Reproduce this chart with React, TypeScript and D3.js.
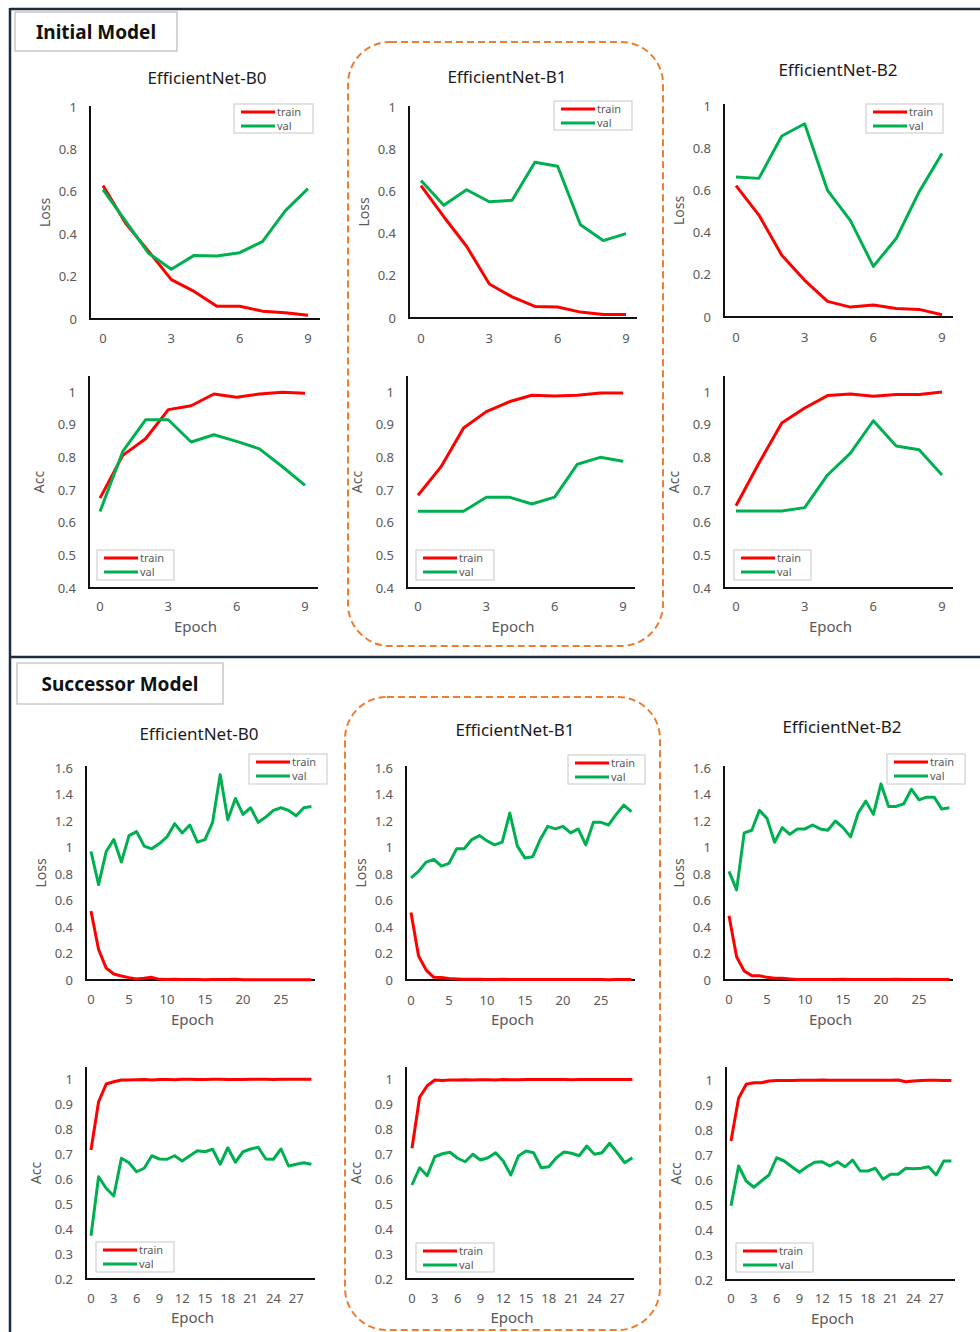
import React from "react";
import * as d3 from "d3";

// ---- data ----
const xTicksInit = [0, 3, 6, 9];
const xTicksSuccLoss = [0, 5, 10, 15, 20, 25];
const xTicksSuccAcc = [0, 3, 6, 9, 12, 15, 18, 21, 24, 27];
const lossTicksInit = [0, 0.2, 0.4, 0.6, 0.8, 1];
const accTicksInit = [0.4, 0.5, 0.6, 0.7, 0.8, 0.9, 1];
const lossTicksSucc = [0, 0.2, 0.4, 0.6, 0.8, 1, 1.2, 1.4, 1.6];
const accTicksSucc = [0.2, 0.3, 0.4, 0.5, 0.6, 0.7, 0.8, 0.9, 1];

// initial model, 10 epochs
const initB0LossTrain = [0.63, 0.45, 0.32, 0.186, 0.13, 0.06, 0.06, 0.037, 0.03, 0.018];
const initB0LossVal = [0.61, 0.46, 0.31, 0.235, 0.3, 0.297, 0.313, 0.365, 0.51, 0.615];
const initB0AccTrain = [0.675, 0.806, 0.857, 0.946, 0.958, 0.994, 0.984, 0.994, 0.999, 0.996];
const initB0AccVal = [0.634, 0.818, 0.915, 0.915, 0.847, 0.869, 0.849, 0.826, 0.772, 0.714];

const initB1LossTrain = [0.627, 0.48, 0.34, 0.161, 0.1, 0.055, 0.052, 0.028, 0.017, 0.017];
const initB1LossVal = [0.652, 0.534, 0.608, 0.551, 0.558, 0.738, 0.719, 0.442, 0.367, 0.4];
const initB1AccTrain = [0.684, 0.77, 0.89, 0.94, 0.97, 0.99, 0.988, 0.99, 0.997, 0.997];
const initB1AccVal = [0.635, 0.635, 0.635, 0.678, 0.678, 0.657, 0.678, 0.779, 0.8, 0.788];

const initB2LossTrain = [0.623, 0.483, 0.293, 0.174, 0.074, 0.047, 0.057, 0.04, 0.036, 0.011];
const initB2LossVal = [0.663, 0.657, 0.858, 0.916, 0.6, 0.457, 0.24, 0.372, 0.593, 0.775];
const initB2AccTrain = [0.652, 0.782, 0.905, 0.951, 0.989, 0.994, 0.987, 0.992, 0.992, 1.0];
const initB2AccVal = [0.636, 0.636, 0.636, 0.646, 0.746, 0.813, 0.912, 0.835, 0.823, 0.746];

// successor model, 30 epochs
const succB0LossTrain = [0.52, 0.23, 0.09, 0.045, 0.03, 0.018, 0.008, 0.013, 0.02, 0.005, 0.004, 0.005, 0.004, 0.004, 0.003, 0.002, 0.003, 0.004, 0.003, 0.005, 0.002, 0.002, 0.002, 0.002, 0.002, 0.002, 0.002, 0.002, 0.002, 0.002];
const succB0LossVal = [0.97, 0.72, 0.97, 1.06, 0.89, 1.09, 1.12, 1.01, 0.99, 1.03, 1.08, 1.18, 1.11, 1.17, 1.04, 1.06, 1.19, 1.55, 1.21, 1.37, 1.25, 1.3, 1.19, 1.23, 1.28, 1.3, 1.28, 1.24, 1.3, 1.31];
const succB0AccTrain = [0.716, 0.909, 0.98, 0.989, 0.996, 0.996, 0.997, 0.998, 0.996, 0.998, 0.998, 0.997, 0.999, 0.999, 0.998, 0.998, 0.999, 0.999, 0.998, 0.998, 0.998, 0.999, 0.999, 0.999, 0.998, 0.999, 0.999, 0.999, 0.999, 0.999];
const succB0AccVal = [0.373, 0.609, 0.563, 0.532, 0.683, 0.665, 0.629, 0.643, 0.693, 0.68, 0.679, 0.693, 0.672, 0.693, 0.713, 0.709, 0.719, 0.659, 0.725, 0.667, 0.709, 0.72, 0.727, 0.68, 0.679, 0.72, 0.652, 0.659, 0.665, 0.659];

const succB1LossTrain = [0.51, 0.18, 0.075, 0.02, 0.018, 0.012, 0.008, 0.005, 0.005, 0.005, 0.004, 0.003, 0.005, 0.004, 0.003, 0.003, 0.003, 0.003, 0.003, 0.003, 0.003, 0.003, 0.003, 0.003, 0.003, 0.003, 0.002, 0.003, 0.003, 0.003];
const succB1LossVal = [0.77, 0.82, 0.89, 0.91, 0.86, 0.88, 0.99, 0.99, 1.06, 1.09, 1.05, 1.02, 1.04, 1.26, 1.01, 0.92, 0.93, 1.06, 1.16, 1.14, 1.16, 1.11, 1.14, 1.02, 1.19, 1.19, 1.17, 1.25, 1.32, 1.27];
const succB1AccTrain = [0.723, 0.927, 0.973, 0.996, 0.994, 0.996, 0.996, 0.997, 0.996, 0.997, 0.997, 0.996, 0.998, 0.997, 0.997, 0.998, 0.998, 0.998, 0.998, 0.998, 0.998, 0.997, 0.998, 0.998, 0.998, 0.998, 0.998, 0.998, 0.998, 0.998];
const succB1AccVal = [0.576, 0.645, 0.613, 0.689, 0.701, 0.707, 0.683, 0.669, 0.699, 0.676, 0.685, 0.705, 0.672, 0.616, 0.692, 0.712, 0.705, 0.645, 0.649, 0.685, 0.708, 0.703, 0.693, 0.732, 0.699, 0.705, 0.743, 0.705, 0.665, 0.685];

const succB2LossTrain = [0.485, 0.176, 0.068, 0.033, 0.033, 0.02, 0.013, 0.013, 0.008, 0.004, 0.004, 0.004, 0.004, 0.004, 0.004, 0.005, 0.004, 0.004, 0.004, 0.004, 0.004, 0.004, 0.005, 0.004, 0.004, 0.004, 0.004, 0.004, 0.004, 0.004];
const succB2LossVal = [0.82, 0.68, 1.11, 1.13, 1.28, 1.22, 1.04, 1.15, 1.1, 1.14, 1.14, 1.17, 1.14, 1.13, 1.2, 1.15, 1.08, 1.26, 1.35, 1.25, 1.48, 1.31, 1.31, 1.33, 1.44, 1.36, 1.38, 1.38, 1.29, 1.3];
const succB2AccTrain = [0.756, 0.927, 0.983, 0.989, 0.989, 0.996, 0.998, 0.998, 0.998, 0.999, 0.999, 0.999, 1.0, 0.999, 0.999, 0.999, 0.999, 0.999, 0.999, 0.999, 0.999, 0.999, 1.0, 0.993, 0.996, 0.998, 0.999, 0.999, 0.998, 0.998];
const succB2AccVal = [0.497, 0.656, 0.596, 0.571, 0.596, 0.62, 0.689, 0.676, 0.653, 0.631, 0.653, 0.671, 0.673, 0.656, 0.673, 0.653, 0.68, 0.636, 0.636, 0.647, 0.603, 0.623, 0.623, 0.647, 0.645, 0.647, 0.653, 0.62, 0.676, 0.676];

const RED = "#ff0000";
const GREEN = "#00b050";
const GRAY = "#595959";
const FONT = "'Noto Sans', 'Open Sans', sans-serif";

// layout for each small chart
const panels = [
  // initial model
  { title: "EfficientNet-B0", tx: 207, ty: 84, ylab: "Loss", train: initB0LossTrain, val: initB0LossVal, yTicks: lossTicksInit, xTicks: xTicksInit, yDom: [0, 1], yRange: [319, 107], axisX: 90, top: 106, right: 320, xRange: [103, 308], xLabY: 343, legend: [234, 104, 79, 29] },
  { ylab: "Acc", epoch: 632, train: initB0AccTrain, val: initB0AccVal, yTicks: accTicksInit, xTicks: xTicksInit, yDom: [0.4, 1], yRange: [588, 392], axisX: 89, top: 376, right: 318, xRange: [100, 305], xLabY: 611, legend: [97, 550, 77, 30] },
  { title: "EfficientNet-B1", tx: 507, ty: 83, ylab: "Loss", train: initB1LossTrain, val: initB1LossVal, yTicks: lossTicksInit, xTicks: xTicksInit, yDom: [0, 1], yRange: [318, 107], axisX: 409, top: 106, right: 637, xRange: [421, 626], xLabY: 343, legend: [554, 101, 78, 29] },
  { ylab: "Acc", epoch: 632, train: initB1AccTrain, val: initB1AccVal, yTicks: accTicksInit, xTicks: xTicksInit, yDom: [0.4, 1], yRange: [588, 392], axisX: 407, top: 376, right: 635, xRange: [418, 623], xLabY: 611, legend: [416, 550, 78, 30] },
  { title: "EfficientNet-B2", tx: 838, ty: 76, ylab: "Loss", train: initB2LossTrain, val: initB2LossVal, yTicks: lossTicksInit, xTicks: xTicksInit, yDom: [0, 1], yRange: [317, 106], axisX: 724, top: 104, right: 953, xRange: [736, 942], xLabY: 342, legend: [866, 104, 77, 29] },
  { ylab: "Acc", epoch: 632, train: initB2AccTrain, val: initB2AccVal, yTicks: accTicksInit, xTicks: xTicksInit, yDom: [0.4, 1], yRange: [588, 392], axisX: 724, top: 376, right: 953, xRange: [736, 942], xLabY: 611, legend: [734, 550, 77, 30] },
  // successor model
  { title: "EfficientNet-B0", tx: 199, ty: 740, ylab: "Loss", epoch: 1025, train: succB0LossTrain, val: succB0LossVal, yTicks: lossTicksSucc, xTicks: xTicksSuccLoss, yDom: [0, 1.6], yRange: [980, 768], axisX: 86, top: 766, right: 315, xRange: [91, 311.4], xLabY: 1004, legend: [249, 754, 78, 30] },
  { ylab: "Acc", epoch: 1323, train: succB0AccTrain, val: succB0AccVal, yTicks: accTicksSucc, xTicks: xTicksSuccAcc, yDom: [0.2, 1], yRange: [1279, 1079], axisX: 86, top: 1067, right: 315, xRange: [91, 311.4], xLabY: 1303, legend: [96, 1242, 78, 30] },
  { title: "EfficientNet-B1", tx: 515, ty: 736, ylab: "Loss", epoch: 1025, train: succB1LossTrain, val: succB1LossVal, yTicks: lossTicksSucc, xTicks: xTicksSuccLoss, yDom: [0, 1.6], yRange: [980, 768], axisX: 406, top: 766, right: 635, xRange: [411, 631.4], xLabY: 1005, legend: [568, 755, 77, 29] },
  { ylab: "Acc", epoch: 1323, train: succB1AccTrain, val: succB1AccVal, yTicks: accTicksSucc, xTicks: xTicksSuccAcc, yDom: [0.2, 1], yRange: [1279, 1079], axisX: 406, top: 1067, right: 634, xRange: [412, 632.4], xLabY: 1303, legend: [416, 1243, 78, 29] },
  { title: "EfficientNet-B2", tx: 842, ty: 733, ylab: "Loss", epoch: 1025, train: succB2LossTrain, val: succB2LossVal, yTicks: lossTicksSucc, xTicks: xTicksSuccLoss, yDom: [0, 1.6], yRange: [980, 768], axisX: 724, top: 766, right: 953, xRange: [729, 949.4], xLabY: 1004, legend: [887, 754, 78, 30] },
  { ylab: "Acc", epoch: 1324, train: succB2AccTrain, val: succB2AccVal, yTicks: accTicksSucc, xTicks: xTicksSuccAcc, yDom: [0.2, 1], yRange: [1280, 1080], axisX: 726, top: 1067, right: 955, xRange: [731, 951.4], xLabY: 1303, legend: [736, 1243, 77, 29] },
];

const fmt = (v: number) => String(+v.toFixed(1));

function Legend({ box }: { box: number[] }) {
  const [bx, by, bw, bh] = box;
  return (
    <g>
      <rect x={bx} y={by} width={bw} height={bh} fill="white" stroke="#d0d0d0" strokeWidth={1.2} />
      <line x1={bx + 7} x2={bx + 41} y1={by + 8} y2={by + 8} stroke={RED} strokeWidth={3} />
      <line x1={bx + 7} x2={bx + 41} y1={by + 22} y2={by + 22} stroke={GREEN} strokeWidth={3} />
      <text x={bx + 43} y={by + 12} fontSize={11} fill={GRAY}>train</text>
      <text x={bx + 43} y={by + 26} fontSize={11} fill={GRAY}>val</text>
    </g>
  );
}

function Panel({ p }: { p: any }) {
  const n = p.train.length;
  const x = d3.scaleLinear().domain([0, n === 10 ? 9 : 29]).range(p.xRange);
  const y = d3.scaleLinear().domain(p.yDom).range(p.yRange);
  const line = d3.line<number>().x((_, i) => x(i)).y((d) => y(d));
  const base = p.yRange[0];
  const cx = (p.axisX + p.right) / 2;
  const ymid = (p.top + base) / 2;
  return (
    <g fontFamily={FONT}>
      {p.title && (
        <text x={p.tx} y={p.ty} textAnchor="middle" fontSize={17} fill="#1a1a1a">{p.title}</text>
      )}
      {p.yTicks.map((t: number) => (
        <text key={t} x={p.axisX - 13} y={y(t)} dy="0.35em" textAnchor="end" fontSize={13} fill={GRAY}>{fmt(t)}</text>
      ))}
      {p.xTicks.map((t: number) => (
        <text key={t} x={x(t)} y={p.xLabY} textAnchor="middle" fontSize={13} fill={GRAY}>{t}</text>
      ))}
      <text transform={`translate(${p.axisX - (p.ylab === "Acc" ? 50 : 45)},${ymid}) rotate(-90)`} textAnchor="middle" dy="0.35em" fontSize={14} fill={GRAY}>{p.ylab}</text>
      {p.epoch && (
        <text x={cx - 8} y={p.epoch} textAnchor="middle" fontSize={15} fill={GRAY}>Epoch</text>
      )}
      <line x1={p.axisX} x2={p.axisX} y1={p.top} y2={base + 1} stroke="#111" strokeWidth={2} />
      <line x1={p.axisX - 1} x2={p.right} y1={base} y2={base} stroke="#111" strokeWidth={2} />
      <path d={line(p.train) || ""} fill="none" stroke={RED} strokeWidth={3} strokeLinejoin="round" />
      <path d={line(p.val) || ""} fill="none" stroke={GREEN} strokeWidth={3} strokeLinejoin="round" />
      <Legend box={p.legend} />
    </g>
  );
}

export default function App() {
  return (
    <svg width={980} height={1332} style={{ position: "absolute", left: 0, top: 0, background: "white" }}>
      <rect x={0} y={0} width={980} height={1332} fill="white" />
      {/* frame */}
      <line x1={10} x2={980} y1={9} y2={9} stroke="#1b2e40" strokeWidth={2.5} />
      <line x1={10} x2={10} y1={8} y2={1332} stroke="#1b2e40" strokeWidth={2.5} />
      <line x1={10} x2={980} y1={657} y2={657} stroke="#1b2e40" strokeWidth={2.5} />
      {/* section headers */}
      <rect x={15} y={12} width={162} height={39} fill="white" stroke="#c8c8c8" strokeWidth={1.5} />
      <text x={96} y={39} textAnchor="middle" fontSize={19} fontWeight="bold" fontFamily={FONT} fill="#111">Initial Model</text>
      <rect x={17} y={663} width={206} height={41} fill="white" stroke="#c8c8c8" strokeWidth={1.5} />
      <text x={120} y={691} textAnchor="middle" fontSize={19} fontWeight="bold" fontFamily={FONT} fill="#111">Successor Model</text>
      {/* highlight around B1 */}
      <rect x={348} y={42} width={315} height={604} rx={42} fill="none" stroke="#ed7d31" strokeWidth={2} strokeDasharray="7,4" />
      <rect x={345} y={697} width={315} height={633} rx={42} fill="none" stroke="#ed7d31" strokeWidth={2} strokeDasharray="7,4" />
      {panels.map((p, i) => (
        <Panel key={i} p={p} />
      ))}
    </svg>
  );
}
